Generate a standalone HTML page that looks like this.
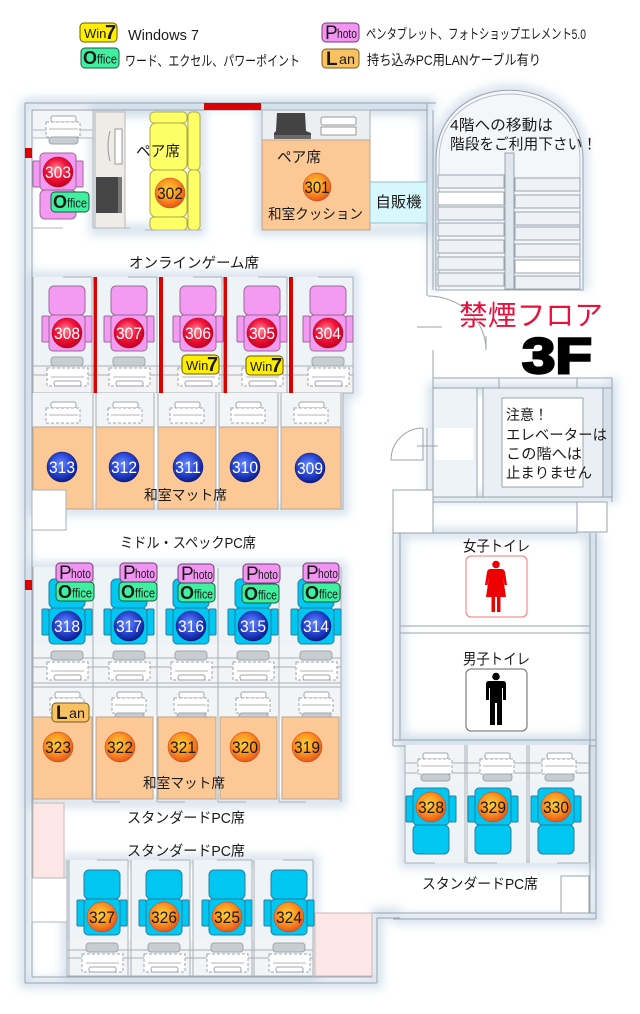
<!DOCTYPE html>
<html><head><meta charset="utf-8"><style>
html,body{margin:0;padding:0;background:#fff;}
svg{display:block;}
text{font-family:"Liberation Sans","Noto Sans CJK JP",sans-serif;fill:#1a1a1a;}
</style></head><body>
<svg width="640" height="1014" viewBox="0 0 640 1014" xmlns="http://www.w3.org/2000/svg">
<defs>
<filter id="bl" x="-20%" y="-20%" width="140%" height="140%"><feGaussianBlur stdDeviation="5"/></filter>
<radialGradient id="rg" cx="0.45" cy="0.4" r="0.6"><stop offset="0" stop-color="#ff8a98"/><stop offset="0.55" stop-color="#f0143c"/><stop offset="1" stop-color="#c4001c"/></radialGradient>
<radialGradient id="bg" cx="0.45" cy="0.4" r="0.6"><stop offset="0" stop-color="#6a8cff"/><stop offset="0.55" stop-color="#2a48d6"/><stop offset="1" stop-color="#0c1c8a"/></radialGradient>
<radialGradient id="og" cx="0.45" cy="0.4" r="0.6"><stop offset="0" stop-color="#ffd23c"/><stop offset="0.5" stop-color="#ff9a22"/><stop offset="1" stop-color="#e8561a"/></radialGradient>
<g id="chD"><rect x="-18" y="-47" width="36" height="29" rx="5"/><rect x="-25" y="-17" width="7" height="26" rx="1"/><rect x="18" y="-17" width="7" height="26" rx="1"/><rect x="-18" y="-18" width="36" height="36" rx="4"/></g>
<g id="chU"><rect x="-18" y="18" width="36" height="29" rx="5"/><rect x="-25" y="-11" width="7" height="26" rx="1"/><rect x="18" y="-11" width="7" height="26" rx="1"/><rect x="-18" y="-19" width="36" height="37" rx="4"/></g>
<g id="dkD"><rect x="-16" y="0" width="32" height="9" rx="3" fill="#c8cdd2" stroke="#9ea6ad"/><rect x="-20" y="11" width="41" height="18" fill="#fff" stroke="#9ea6ad" stroke-dasharray="3,2"/><path d="M-16 20 H17" stroke="#b0b6bc"/><rect x="-13" y="24" width="27" height="5" rx="2" fill="#fff" stroke="#9ea6ad"/></g>
<g id="dkU"><rect x="-12" y="0" width="25" height="6" rx="2" fill="#fff" stroke="#9ea6ad"/><rect x="-17" y="6" width="34" height="15" fill="#fff" stroke="#9ea6ad" stroke-dasharray="3,2"/><path d="M-14 13 H15" stroke="#b0b6bc"/><rect x="-14" y="21" width="29" height="7" rx="3" fill="#c8cdd2" stroke="#9ea6ad"/></g>
<g id="dkU2"><rect x="-12" y="0" width="25" height="6" rx="2" fill="#fff" stroke="#9ea6ad"/><rect x="-17" y="6" width="34" height="15" fill="#fff" stroke="#9ea6ad" stroke-dasharray="3,2"/><path d="M-14 13 H15" stroke="#b0b6bc"/></g>
</defs>

<rect width="640" height="1014" fill="#fff"/>

<!-- glow -->
<g filter="url(#bl)" fill="none" stroke="#d2dfeb" stroke-width="10">
<path d="M25 103 H436 M25 103 V983 H377 V913 H400 M393 919 H596 V533 M612 378 V502 M436 290 V160 C436 67 583 67 583 160 V290"/>
<rect x="33" y="277" width="320" height="116"/>
<rect x="33" y="393" width="310" height="117"/>
<rect x="33" y="567" width="308" height="235"/>
<rect x="67" y="860" width="246" height="116"/>
<rect x="405" y="745" width="184" height="118"/>
<rect x="95" y="112" width="105" height="118"/>
<rect x="262" y="110" width="165" height="120"/>
<rect x="433" y="388" width="170" height="109"/>
<rect x="400" y="533" width="190" height="207"/>
</g>

<!-- LEGEND -->
<rect x="80" y="23" width="37" height="19" rx="4" fill="#ffee00" stroke="#6b5a00"/><text x="84" y="38" font-size="13">Win</text><text x="105" y="39" font-size="20" font-weight="bold">7</text>
<text x="128" y="40" font-size="14.5">Windows 7</text>
<rect x="81" y="48" width="38" height="20" rx="4" fill="#3ff0a0" stroke="#1d5a40"/><text x="83" y="64" font-size="18" font-weight="bold">O</text><text x="97" y="63.5" font-size="13" textLength="20" lengthAdjust="spacingAndGlyphs">ffice</text>
<text x="125" y="66" font-size="14" textLength="175" lengthAdjust="spacingAndGlyphs">ワード、エクセル、パワーポイント</text>
<rect x="322" y="23" width="37" height="19" rx="4" fill="#f294f2" stroke="#7a3a7a"/><text x="325" y="39" font-size="19">P</text><text x="337" y="38" font-size="13" textLength="20" lengthAdjust="spacingAndGlyphs">hoto</text>
<text x="366" y="39" font-size="14" textLength="220" lengthAdjust="spacingAndGlyphs">ペンタブレット、フォトショップエレメント5.0</text>
<rect x="322" y="49" width="37" height="19" rx="4" fill="#f8c262" stroke="#7a5a20"/><text x="326" y="65" font-size="19" font-weight="bold">L</text><text x="339" y="64" font-size="14" textLength="16" lengthAdjust="spacingAndGlyphs">an</text>
<text x="367" y="65" font-size="14" textLength="174" lengthAdjust="spacingAndGlyphs">持ち込みPC用LANケーブル有り</text>

<!-- WALLS -->
<g fill="none" stroke="#9aa3ad" stroke-width="1">
<path d="M25 103 H436 M32 110 H427 M25 103 V983 M32 110 V977 M25 983 H377 M32 977 H372"/>
<path d="M372 913 V977 M377 918 V983 M315 913 H596 M377 918 H400 M393 919 H596"/>
<path d="M590 533 V913 M596 533 V919 M393 490 V746 M400 533 V740 M393 740 H596 M393 746 H596 M400 626 H590 M400 633 H590 M400 533 H577"/>
<path d="M433 378 H612 M433 388 H612 M612 378 V502 M433 497 H612 M433 502 H577 M499 378 V388 M577 378 V388"/>
<path d="M427 103 V296 M433 110 V290 M433 350 V490 M427 428 V490"/>
</g>

<!-- TOP ROOMS -->
<rect x="33" y="111" width="60" height="27" fill="#f3f5f7"/>
<path d="M33 130 H93 M33 138 H93 M93 110 V228 M33 228 H63 M93 228 H130" stroke="#b0b8c0" fill="none"/>
<use href="#dkU" x="63" y="116"/>
<use href="#chU" x="58" y="172" fill="#f49af2" stroke="#9a6a98"/>
<circle cx="58" cy="172" r="15" fill="url(#rg)" stroke="#b00018" stroke-width="0.5"/><text x="58" y="178" font-size="17" text-anchor="middle" textLength="26" lengthAdjust="spacingAndGlyphs" style="fill:#fff">303</text>
<rect x="51" y="192" width="38" height="20" rx="4" fill="#3ff0a0" stroke="#1d5a40"/><text x="53" y="208" font-size="18" font-weight="bold">O</text><text x="67" y="207.5" font-size="13" textLength="20" lengthAdjust="spacingAndGlyphs">ffice</text>

<rect x="95" y="112" width="30" height="116" fill="#efebe6" stroke="#b8b8b8"/>
<rect x="115" y="129" width="7" height="35" fill="#fff" stroke="#999"/>
<path d="M110 131 Q106 146 110 161" stroke="#999" fill="none"/>
<rect x="96" y="177" width="26" height="36" fill="#454545"/>
<rect x="118" y="177" width="4" height="36" fill="#777"/>

<g fill="#ffff66" stroke="#a8a848">
<rect x="150" y="112" width="37" height="11" rx="4"/>
<rect x="150" y="123" width="37" height="47" rx="6"/>
<rect x="150" y="170" width="37" height="47" rx="6"/>
<rect x="150" y="217" width="37" height="13" rx="4"/>
<rect x="188" y="112" width="12" height="58" rx="4"/>
<rect x="188" y="170" width="12" height="60" rx="4"/>
</g>
<path d="M145 230 H202" stroke="#b0b8c0"/>
<text x="136" y="156" font-size="15" textLength="44" lengthAdjust="spacingAndGlyphs">ペア席</text>
<circle cx="170" cy="193" r="15" fill="url(#og)" stroke="#c04010" stroke-width="0.5"/><text x="170" y="199" font-size="17" text-anchor="middle" textLength="26" lengthAdjust="spacingAndGlyphs">302</text>

<rect x="204" y="103" width="57" height="7" fill="#dd0000"/>

<rect x="262" y="110" width="108" height="30" fill="#eceff2" stroke="#aab1b8"/>
<polygon points="277,113 305,113 306,131 311,133 311,139 274,139 274,133 276,131" fill="#434343"/>
<rect x="274" y="135" width="37" height="4" fill="#6a6a6a"/>
<rect x="321" y="117" width="35" height="8" rx="2" fill="#fff" stroke="#999"/>
<rect x="321" y="127" width="35" height="8" fill="#fff" stroke="#999"/>
<rect x="262" y="140" width="108" height="90" fill="#fbc896" stroke="#b9a58f"/>
<text x="277" y="162" font-size="15" textLength="44" lengthAdjust="spacingAndGlyphs">ペア席</text>
<circle cx="317" cy="187" r="14" fill="url(#og)" stroke="#c04010" stroke-width="0.5"/><text x="317" y="193" font-size="17" text-anchor="middle" textLength="25" lengthAdjust="spacingAndGlyphs">301</text>
<text x="268" y="219" font-size="14" textLength="95" lengthAdjust="spacingAndGlyphs">和室クッション</text>

<rect x="370" y="182" width="57" height="41" fill="#d6f7fb" stroke="#9bbcc4"/>
<text x="398.5" y="207" font-size="15" text-anchor="middle" textLength="46" lengthAdjust="spacingAndGlyphs">自販機</text>

<!-- STAIRS -->
<path d="M436 290 V160 C436 67 583 67 583 160 V290 Z" fill="#f4f7fa" stroke="#9aa3ad"/>
<path d="M439 289 V160 C439 72 580 72 580 160 V289" fill="none" stroke="#b8c0c8"/>
<g fill="#eef2f6" stroke="#9aa3ad">
<rect x="438" y="175" width="66" height="13"/>
<rect x="438" y="192" width="66" height="13" fill="#fff"/>
<rect x="438" y="207" width="66" height="13"/>
<rect x="438" y="223" width="66" height="13"/>
<rect x="438" y="240" width="66" height="13"/>
<rect x="438" y="257" width="66" height="13"/>
<rect x="438" y="273" width="66" height="13"/>
<rect x="515" y="178" width="65" height="13"/>
<rect x="515" y="195" width="65" height="13"/>
<rect x="515" y="212" width="65" height="13"/>
<rect x="515" y="227" width="65" height="13"/>
<rect x="515" y="244" width="65" height="13"/>
<rect x="515" y="260" width="65" height="13" fill="#fff"/>
<rect x="515" y="276" width="65" height="13"/>
<rect x="505" y="153" width="9" height="136" fill="#dfe6ed"/>
</g>
<text x="450" y="130" font-size="15" textLength="103" lengthAdjust="spacingAndGlyphs">4階への移動は</text>
<text x="450" y="149" font-size="15" textLength="147" lengthAdjust="spacingAndGlyphs">階段をご利用下さい！</text>

<path d="M428 296 A58 54 0 0 1 486 350 M486 336 V350 M417 327 H442" fill="none" stroke="#9aa3ad"/>

<text x="459" y="325" font-size="28" textLength="144" lengthAdjust="spacingAndGlyphs" style="fill:#e8103c">禁煙フロア</text>
<text x="522" y="373" font-size="50" font-weight="bold" textLength="70" lengthAdjust="spacingAndGlyphs" style="fill:#000;stroke:#000;stroke-width:2.5">3F</text>

<!-- ELEVATOR -->
<rect x="433" y="388" width="44" height="109" fill="#eef3f7" stroke="#9aa3ad"/>
<rect x="435" y="428" width="38" height="32" fill="#fff"/>
<rect x="483" y="388" width="120" height="109" fill="#e9eff5" stroke="#9aa3ad"/>
<rect x="502" y="398" width="81" height="89" fill="#fff" stroke="#9aa3ad"/>
<text x="506" y="420" font-size="14.5" textLength="42" lengthAdjust="spacingAndGlyphs">注意！</text>
<text x="506" y="440" font-size="14.5" textLength="101" lengthAdjust="spacingAndGlyphs">エレベーターは</text>
<text x="506" y="459" font-size="14.5" textLength="76" lengthAdjust="spacingAndGlyphs">この階へは</text>
<text x="506" y="478" font-size="14.5" textLength="86" lengthAdjust="spacingAndGlyphs">止まりません</text>
<path d="M423 428 A32 32 0 0 0 391 460 H423 V428 M417 446 H438" fill="none" stroke="#9aa3ad"/>
<rect x="393" y="490" width="40" height="43" fill="#fff" stroke="#9aa3ad"/>
<rect x="577" y="502" width="30" height="30" fill="#fff" stroke="#9aa3ad"/>

<!-- TOILETS -->
<text x="463" y="551" font-size="15" textLength="67" lengthAdjust="spacingAndGlyphs">女子トイレ</text>
<rect x="466" y="556" width="61" height="61" rx="5" fill="#fff" stroke="#f07878"/>
<circle cx="496" cy="564.5" r="3.8" fill="#ee0000"/>
<path d="M490 569 L502 569 Q504 569 505 572 L507 585 L504.5 585 L503 577 L506 597 L486 597 L489 577 L487.5 585 L485 585 L487 572 Q488 569 490 569 Z" fill="#ee0000"/>
<rect x="491.5" y="597" width="3.5" height="15" fill="#ee0000"/><rect x="497" y="597" width="3.5" height="15" fill="#ee0000"/>
<text x="463" y="664" font-size="15" textLength="67" lengthAdjust="spacingAndGlyphs">男子トイレ</text>
<rect x="466" y="669" width="61" height="62" rx="5" fill="#fff" stroke="#666"/>
<circle cx="496" cy="676.5" r="3.8" fill="#000"/>
<path d="M489 681 L503 681 Q506 681 506 684 L506 700 L503 700 L503 688 L502 688 L502 725 L497 725 L497 703 L495 703 L495 725 L490 725 L490 688 L489 688 L489 700 L486 700 L486 684 Q486 681 489 681 Z" fill="#000"/>

<!-- RIGHT SEATS 328-330 -->
<g fill="#eef3f8"><rect x="405" y="745" width="60" height="118"/><rect x="467" y="745" width="60" height="118"/><rect x="529" y="745" width="60" height="118"/></g>
<rect x="405" y="745" width="184" height="36" fill="#f3f4f5"/>
<path d="M405 745 V863 M465 745 V863 M467 745 V863 M527 745 V863 M529 745 V863 M589 745 V863 M405 763 H589 M405 773 H589 M405 863 H435 M467 863 H497 M557 863 H588" stroke="#a8b0b8" fill="none"/>
<use href="#dkU" x="435" y="753"/><use href="#dkU" x="497" y="753"/><use href="#dkU" x="559" y="753"/>
<use href="#chU" x="431" y="807" fill="#00c6f2" stroke="#2a7f9c"/>
<use href="#chU" x="493" y="807" fill="#00c6f2" stroke="#2a7f9c"/>
<use href="#chU" x="556" y="807" fill="#00c6f2" stroke="#2a7f9c"/>
<g stroke="#c04010" stroke-width="0.5" fill="url(#og)"><circle cx="431" cy="807" r="15"/><circle cx="493" cy="807" r="15"/><circle cx="556" cy="807" r="15"/></g>
<g font-size="17" text-anchor="middle"><text x="431" y="813" textLength="26" lengthAdjust="spacingAndGlyphs">328</text><text x="493" y="813" textLength="26" lengthAdjust="spacingAndGlyphs">329</text><text x="556" y="813" textLength="26" lengthAdjust="spacingAndGlyphs">330</text></g>
<text x="422" y="889" font-size="14.5" textLength="116" lengthAdjust="spacingAndGlyphs">スタンダードPC席</text>
<rect x="561" y="876" width="28" height="37" fill="#fff" stroke="#9aa3ad"/>

<!-- GAME ROW -->
<text x="129" y="268" font-size="14.5" textLength="130" lengthAdjust="spacingAndGlyphs">オンラインゲーム席</text>
<g fill="#eef3f8"><rect x="33" y="277" width="59" height="116"/><rect x="97" y="277" width="60" height="116"/><rect x="163" y="277" width="59" height="116"/><rect x="227" y="277" width="60" height="116"/><rect x="293" y="277" width="60" height="116"/></g>
<rect x="33" y="366" width="320" height="27" fill="#f3f3f3"/>
<path d="M33 366 H353 M33 375 H353 M33 277 V393 M92 277 V393 M157 277 V393 M222 277 V393 M287 277 V393 M353 277 V393 M63 277 H92 M128 277 H157 M193 277 H222 M258 277 H287 M318 277 H353 M33 393 H353" stroke="#a8b0b8" fill="none"/>
<g fill="#dd0000"><rect x="93.5" y="277" width="3.5" height="116"/><rect x="159" y="277" width="4" height="116"/><rect x="223.5" y="277" width="3.5" height="116"/><rect x="289" y="277" width="4" height="116"/></g>
<use href="#dkD" x="67" y="357"/><use href="#dkD" x="129" y="357"/><use href="#dkD" x="198" y="357"/><use href="#dkD" x="262" y="357"/><use href="#dkD" x="328" y="357"/>
<g fill="#f49af2" stroke="#9a6a98"><use href="#chD" x="67" y="333"/><use href="#chD" x="129" y="333"/><use href="#chD" x="198" y="333"/><use href="#chD" x="262" y="333"/><use href="#chD" x="328" y="333"/></g>
<g stroke="#b00018" stroke-width="0.5" fill="url(#rg)"><circle cx="67" cy="333" r="15"/><circle cx="129" cy="333" r="15"/><circle cx="198" cy="333" r="15"/><circle cx="262" cy="333" r="15"/><circle cx="328" cy="333" r="15"/></g>
<g font-size="17" text-anchor="middle" style="fill:#fff"><text x="67" y="339" textLength="26" lengthAdjust="spacingAndGlyphs" style="fill:#fff">308</text><text x="129" y="339" textLength="26" lengthAdjust="spacingAndGlyphs" style="fill:#fff">307</text><text x="198" y="339" textLength="26" lengthAdjust="spacingAndGlyphs" style="fill:#fff">306</text><text x="262" y="339" textLength="26" lengthAdjust="spacingAndGlyphs" style="fill:#fff">305</text><text x="328" y="339" textLength="26" lengthAdjust="spacingAndGlyphs" style="fill:#fff">304</text></g>
<rect x="182" y="355" width="37" height="19" rx="4" fill="#ffee00" stroke="#6b5a00"/><text x="186" y="370" font-size="13">Win</text><text x="207" y="371" font-size="20" font-weight="bold">7</text>
<rect x="246" y="356" width="37" height="19" rx="4" fill="#ffee00" stroke="#6b5a00"/><text x="250" y="371" font-size="13">Win</text><text x="271" y="372" font-size="20" font-weight="bold">7</text>

<!-- ROW 2 -->
<rect x="33" y="393" width="310" height="34" fill="#f3f4f5"/>
<g fill="#fbc896" stroke="#b9a58f"><rect x="33" y="427" width="60" height="82"/><rect x="96" y="427" width="58" height="82"/><rect x="158" y="427" width="58" height="82"/><rect x="219" y="427" width="59" height="82"/><rect x="281" y="427" width="60" height="82"/></g>
<path d="M93 393 V510 M96 393 V510 M154 393 V510 M158 393 V510 M216 393 V510 M219 393 V510 M278 393 V510 M281 393 V510 M341 393 V510 M343 393 V510" stroke="#a8b0b8" fill="none"/>
<use href="#dkU2" x="63" y="402"/><use href="#dkU2" x="125" y="402"/><use href="#dkU2" x="187" y="402"/><use href="#dkU2" x="248" y="402"/><use href="#dkU2" x="311" y="402"/>
<g stroke="#081470" stroke-width="0.5" fill="url(#bg)"><circle cx="62" cy="467" r="15"/><circle cx="124" cy="467" r="15"/><circle cx="188" cy="467" r="15"/><circle cx="245" cy="467" r="15"/><circle cx="310" cy="468" r="15"/></g>
<g font-size="17" text-anchor="middle"><text x="62" y="473" textLength="26" lengthAdjust="spacingAndGlyphs" style="fill:#fff">313</text><text x="124" y="473" textLength="26" lengthAdjust="spacingAndGlyphs" style="fill:#fff">312</text><text x="188" y="473" textLength="26" lengthAdjust="spacingAndGlyphs" style="fill:#fff">311</text><text x="245" y="473" textLength="26" lengthAdjust="spacingAndGlyphs" style="fill:#fff">310</text><text x="310" y="474" textLength="26" lengthAdjust="spacingAndGlyphs" style="fill:#fff">309</text></g>
<text x="144" y="500" font-size="14" textLength="83" lengthAdjust="spacingAndGlyphs">和室マット席</text>
<rect x="32" y="490" width="34" height="40" fill="#fff" stroke="#a8b0b8"/>

<!-- ROW 3 -->
<text x="120" y="548" font-size="14.5" textLength="136" lengthAdjust="spacingAndGlyphs">ミドル・スペックPC席</text>
<rect x="25" y="580" width="7" height="10" fill="#dd0000"/>
<rect x="25" y="148" width="7" height="10" fill="#dd0000"/>
<g fill="#eef3f8"><rect x="33" y="567" width="308" height="78"/></g>
<rect x="33" y="645" width="308" height="72" fill="#f3f4f5"/>
<path d="M33 567 V802 M93 577 V802 M157 570 V802 M218 568 V802 M279 570 V802 M341 567 V802 M33 658 H341 M33 667 H341 M33 683 H341 M33 687 H341" stroke="#a8b0b8" fill="none"/>
<use href="#dkD" x="67" y="651"/><use href="#dkD" x="129" y="651"/><use href="#dkD" x="191" y="651"/><use href="#dkD" x="253" y="651"/><use href="#dkD" x="316" y="651"/>
<use href="#dkU" x="67" y="692"/><use href="#dkU" x="129" y="692"/><use href="#dkU" x="191" y="692"/><use href="#dkU" x="253" y="692"/><use href="#dkU" x="316" y="692"/>
<g fill="#00c6f2" stroke="#2a7f9c"><use href="#chD" x="67" y="626"/><use href="#chD" x="129" y="626"/><use href="#chD" x="191" y="626"/><use href="#chD" x="253" y="626"/><use href="#chD" x="316" y="626"/></g>
<g stroke="#081470" stroke-width="0.5" fill="url(#bg)"><circle cx="67" cy="626" r="15"/><circle cx="129" cy="626" r="15"/><circle cx="191" cy="626" r="15"/><circle cx="253" cy="626" r="15"/><circle cx="316" cy="626" r="15"/></g>
<g font-size="17" text-anchor="middle"><text x="67" y="632" textLength="26" lengthAdjust="spacingAndGlyphs" style="fill:#fff">318</text><text x="129" y="632" textLength="26" lengthAdjust="spacingAndGlyphs" style="fill:#fff">317</text><text x="191" y="632" textLength="26" lengthAdjust="spacingAndGlyphs" style="fill:#fff">316</text><text x="253" y="632" textLength="26" lengthAdjust="spacingAndGlyphs" style="fill:#fff">315</text><text x="316" y="632" textLength="26" lengthAdjust="spacingAndGlyphs" style="fill:#fff">314</text></g>
<!-- photo / office badges -->
<g fill="#f294f2" stroke="#7a3a7a"><rect x="56" y="563" width="37" height="19" rx="4"/><rect x="120" y="563" width="37" height="19" rx="4"/><rect x="178" y="564" width="36" height="19" rx="4"/><rect x="243" y="564" width="37" height="19" rx="4"/><rect x="303" y="563" width="36" height="19" rx="4"/></g>
<g font-size="19"><text x="59" y="579">P</text><text x="123" y="579">P</text><text x="181" y="580">P</text><text x="246" y="580">P</text><text x="306" y="579">P</text></g>
<g font-size="13"><text x="71" y="578" textLength="20" lengthAdjust="spacingAndGlyphs">hoto</text><text x="135" y="578" textLength="20" lengthAdjust="spacingAndGlyphs">hoto</text><text x="193" y="579" textLength="20" lengthAdjust="spacingAndGlyphs">hoto</text><text x="258" y="579" textLength="20" lengthAdjust="spacingAndGlyphs">hoto</text><text x="318" y="578" textLength="20" lengthAdjust="spacingAndGlyphs">hoto</text></g>
<g fill="#3ff0a0" stroke="#1d5a40"><rect x="56" y="582" width="38" height="19" rx="4"/><rect x="119" y="582" width="38" height="19" rx="4"/><rect x="178" y="583" width="37" height="19" rx="4"/><rect x="242" y="584" width="37" height="19" rx="4"/><rect x="303" y="583" width="37" height="19" rx="4"/></g>
<g font-size="18" font-weight="bold"><text x="58" y="598">O</text><text x="121" y="598">O</text><text x="180" y="599">O</text><text x="244" y="600">O</text><text x="305" y="599">O</text></g>
<g font-size="13"><text x="72" y="597.5" textLength="20" lengthAdjust="spacingAndGlyphs">ffice</text><text x="135" y="597.5" textLength="20" lengthAdjust="spacingAndGlyphs">ffice</text><text x="194" y="598.5" textLength="19" lengthAdjust="spacingAndGlyphs">ffice</text><text x="258" y="599.5" textLength="19" lengthAdjust="spacingAndGlyphs">ffice</text><text x="319" y="598.5" textLength="19" lengthAdjust="spacingAndGlyphs">ffice</text></g>

<!-- ROW 4 -->
<g fill="#fbc896" stroke="#b9a58f"><rect x="33" y="717" width="59" height="82"/><rect x="96" y="717" width="57" height="82"/><rect x="158" y="717" width="58" height="82"/><rect x="220" y="717" width="57" height="82"/><rect x="282" y="717" width="57" height="82"/></g>
<rect x="52" y="703" width="37" height="19" rx="4" fill="#f8c262" stroke="#7a5a20"/><text x="56" y="719" font-size="19" font-weight="bold">L</text><text x="69" y="718" font-size="14" textLength="16" lengthAdjust="spacingAndGlyphs">an</text>
<g stroke="#c04010" stroke-width="0.5" fill="url(#og)"><circle cx="58" cy="747" r="15"/><circle cx="120" cy="747" r="15"/><circle cx="183" cy="747" r="15"/><circle cx="245" cy="747" r="15"/><circle cx="307" cy="747" r="15"/></g>
<g font-size="17" text-anchor="middle"><text x="58" y="753" textLength="26" lengthAdjust="spacingAndGlyphs">323</text><text x="120" y="753" textLength="26" lengthAdjust="spacingAndGlyphs">322</text><text x="183" y="753" textLength="26" lengthAdjust="spacingAndGlyphs">321</text><text x="245" y="753" textLength="26" lengthAdjust="spacingAndGlyphs">320</text><text x="307" y="753" textLength="26" lengthAdjust="spacingAndGlyphs">319</text></g>
<text x="143" y="788" font-size="14" textLength="82" lengthAdjust="spacingAndGlyphs">和室マット席</text>
<path d="M93 802 H120 M157 802 H185 M218 802 H246 M279 802 H306" stroke="#a8b0b8"/>

<!-- BOTTOM -->
<rect x="33" y="803" width="31" height="75" fill="#fde6e6" stroke="#c8b8b8"/>
<rect x="32" y="878" width="35" height="44" fill="#fff" stroke="#b0b8c0"/>
<text x="127" y="823" font-size="14.5" textLength="118" lengthAdjust="spacingAndGlyphs">スタンダードPC席</text>
<text x="127" y="856" font-size="14.5" textLength="118" lengthAdjust="spacingAndGlyphs">スタンダードPC席</text>
<g fill="#eef3f8"><rect x="69" y="860" width="59" height="116"/><rect x="131" y="860" width="59" height="116"/><rect x="193" y="860" width="59" height="116"/><rect x="254" y="860" width="59" height="116"/></g>
<rect x="67" y="940" width="246" height="36" fill="#f3f4f5"/>
<path d="M67 860 V976 M69 860 V976 M128 860 V976 M131 860 V976 M190 860 V976 M193 860 V976 M252 860 V976 M254 860 V976 M313 860 V976 M97 860 H128 M159 860 H190 M217 860 H252 M283 860 H313 M67 976 H313 M67 950 H313 M67 958 H313" stroke="#a8b0b8" fill="none"/>
<use href="#dkD" x="102" y="943"/><use href="#dkD" x="164" y="943"/><use href="#dkD" x="227" y="943"/><use href="#dkD" x="289" y="943"/>
<g fill="#00c6f2" stroke="#2a7f9c"><use href="#chD" x="102" y="917"/><use href="#chD" x="164" y="917"/><use href="#chD" x="227" y="917"/><use href="#chD" x="289" y="917"/></g>
<g stroke="#c04010" stroke-width="0.5" fill="url(#og)"><circle cx="102" cy="917" r="15"/><circle cx="164" cy="917" r="15"/><circle cx="227" cy="917" r="15"/><circle cx="289" cy="917" r="15"/></g>
<g font-size="17" text-anchor="middle"><text x="102" y="923" textLength="26" lengthAdjust="spacingAndGlyphs">327</text><text x="164" y="923" textLength="26" lengthAdjust="spacingAndGlyphs">326</text><text x="227" y="923" textLength="26" lengthAdjust="spacingAndGlyphs">325</text><text x="289" y="923" textLength="26" lengthAdjust="spacingAndGlyphs">324</text></g>
<rect x="315" y="913" width="57" height="63" fill="#fde6e6" stroke="#c8b8b8"/>
</svg>
</body></html>
